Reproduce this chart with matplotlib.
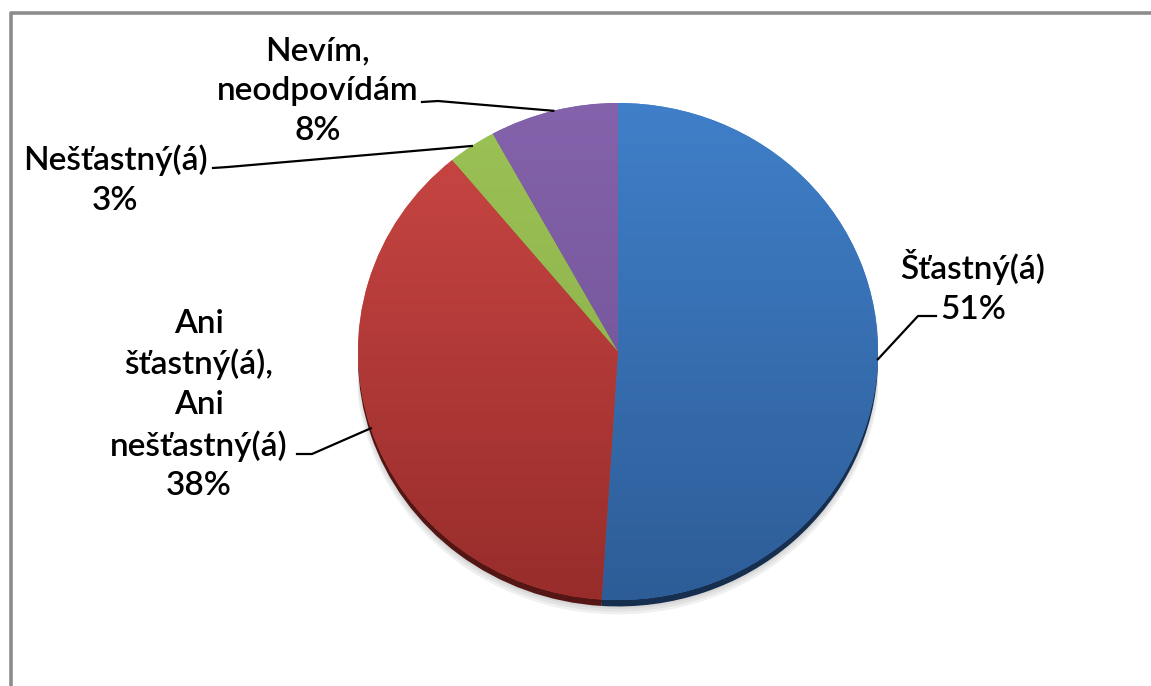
import numpy as np
import matplotlib
matplotlib.use("Agg")
import matplotlib.pyplot as plt
from matplotlib.colors import LinearSegmentedColormap
from matplotlib.patches import Ellipse
from matplotlib.lines import Line2D

# Survey answers (percent)
categories = ["Šťastný(á)", "Ani\nšťastný(á),\nAni\nnešťastný(á)", "Nešťastný(á)", "Nevím,\nneodpovídám"]
values = [51, 38, 3, 8]

# light (top) / dark (bottom) shade of each slice
light = ["#4080CA", "#CD4845", "#9CC356", "#8463AC"]
dark = ["#2D5C96", "#962C2A", "#86A846", "#6C4D8F"]
edge = ["#172F4F", "#541614", "#4E6428", "#3F2C55"]

# label block centres and leader-line end / elbow points (figure pixels, y down)
label_xy = [(973, 287), (199, 405), (115, 180), (318, 91)]
leader_end = [(936, 316), (297, 454), (213, 168), (422, 102)]
leader_elbow = [(918, 316), (312, 454), (228, 167), (438, 101)]

W, H = 1151, 686
fig = plt.figure(figsize=(W / 100, H / 100), dpi=100)
fig.patch.set_facecolor("white")

# pie occupies an ellipse box (slight tilt); y from -1.06 leaves room for the rim
px0, px1, py0, py1 = 358, 878, 103, 600
ylo = -1.06
hpx = (py1 - py0) * (1 - ylo) / 2
pax = fig.add_axes([px0 / W, 1 - (py0 + hpx) / H, (px1 - px0) / W, hpx / H])

# soft drop shadow and dark rim underneath
for i, a in enumerate([0.05, 0.05, 0.06]):
    pax.add_patch(Ellipse((0.0, -0.036 - 0.006 * i), 2.0 + 0.01 * i, 2.0 + 0.01 * i,
                          facecolor="#000000", alpha=a, lw=0, zorder=0))
rim, _ = pax.pie(values, colors=edge, startangle=90, counterclock=False,
                 radius=1.0, center=(0, -0.026), wedgeprops=dict(linewidth=0))
for w in rim:
    w.set_zorder(1)

wedges, _ = pax.pie(values, colors=light, startangle=90, counterclock=False,
                    radius=1.0, center=(0, 0), wedgeprops=dict(linewidth=0))

# vertical shading inside each slice
grad = np.linspace(0, 1, 256).reshape(-1, 1)
for w, c0, c1 in zip(wedges, light, dark):
    w.set_zorder(2)
    cmap = LinearSegmentedColormap.from_list("s", [c0, c1])
    im = pax.imshow(grad, cmap=cmap, extent=(-1.05, 1.05, -1.05, 1.05),
                    origin="upper", aspect="auto", zorder=3, interpolation="bilinear")
    im.set_clip_path(w)
pax.set_aspect("auto")
pax.set_xlim(-1, 1)
pax.set_ylim(ylo, 1.0)
pax.axis("off")

# overlay in pixel coordinates for labels, leaders and frame
ov = fig.add_axes([0, 0, 1, 1], zorder=5)
ov.set_xlim(0, W)
ov.set_ylim(H, 0)
ov.axis("off")
ov.patch.set_alpha(0)

ov.add_line(Line2D([11.5, 11.5, W + 5], [H + 5, 12.5, 12.5], color="#8C8C8C", lw=2.6))

total = sum(values)
start = 90.0
font = dict(family=["Lato", "DejaVu Sans"], fontsize=24, fontweight="semibold", color="black")
for i, (cat, v) in enumerate(zip(categories, values)):
    mid = np.deg2rad(start - 360.0 * (sum(values[:i]) + v / 2) / total)
    anchor_disp = pax.transData.transform((np.cos(mid), np.sin(mid)))
    ax_, ay_ = ov.transData.inverted().transform(anchor_disp)
    ex, ey = leader_end[i]
    bx, by = leader_elbow[i]
    ov.add_line(Line2D([ax_, bx, ex], [ay_, by, ey], color="black", lw=1.6))
    tx, ty = label_xy[i]
    ov.text(tx, ty, f"{cat}\n{v}%", ha="center", va="center",
            multialignment="center", linespacing=1.4, **font)

fig.savefig("out.png", dpi=100, facecolor="white")
